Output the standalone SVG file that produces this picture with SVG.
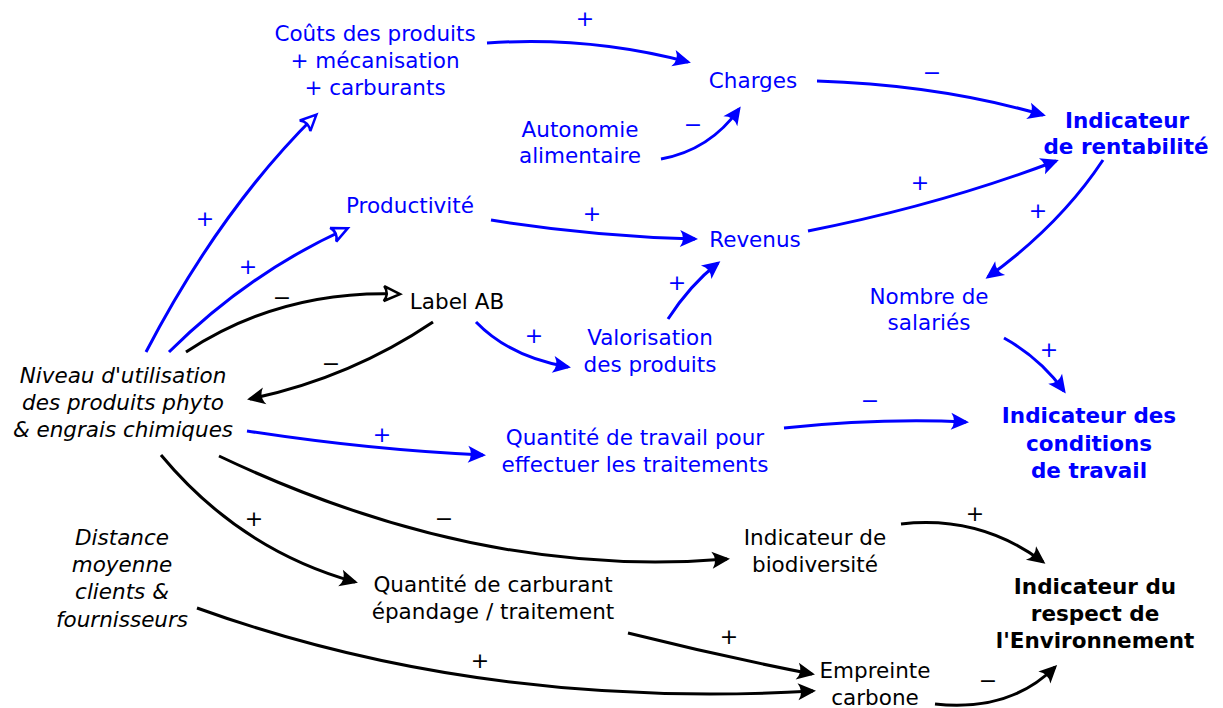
<svg xmlns="http://www.w3.org/2000/svg" width="1223" height="708" viewBox="0 0 1223 708">
<style>
text{font-family:"DejaVu Sans","Liberation Sans",sans-serif;font-size:21.5px;text-anchor:middle}
.b{fill:#0000ff}
.k{fill:#000}
.bold{font-weight:bold}
.it{font-style:italic}
.s{font-size:22px}
path.cb{fill:none;stroke:#0000ff;stroke-width:3;marker-end:url(#ab)}
path.cbh{fill:none;stroke:#0000ff;stroke-width:3;marker-end:url(#abh)}
path.ck{fill:none;stroke:#000;stroke-width:3;marker-end:url(#ak)}
path.ckh{fill:none;stroke:#000;stroke-width:3;marker-end:url(#akh)}
</style>
<defs>
<marker id="ab" viewBox="-18 -10 24 20" refX="0" refY="0" markerWidth="24" markerHeight="20" orient="auto" markerUnits="userSpaceOnUse"><path d="M3,0 L-15,-8.5 Q-9,0 -15,8.5 Z" fill="#0000ff"/></marker>
<marker id="ak" viewBox="-18 -10 24 20" refX="0" refY="0" markerWidth="24" markerHeight="20" orient="auto" markerUnits="userSpaceOnUse"><path d="M3,0 L-15,-8.5 Q-9,0 -15,8.5 Z" fill="#000"/></marker>
<marker id="abh" viewBox="-18 -10 24 20" refX="0" refY="0" markerWidth="24" markerHeight="20" orient="auto" markerUnits="userSpaceOnUse"><path d="M2,0 L-14,-7.5 Q-8.5,0 -14,7.5 Z" fill="#fff" stroke="#0000ff" stroke-width="2.5" stroke-linejoin="miter"/></marker>
<marker id="akh" viewBox="-18 -10 24 20" refX="0" refY="0" markerWidth="24" markerHeight="20" orient="auto" markerUnits="userSpaceOnUse"><path d="M2,0 L-14,-7.5 Q-8.5,0 -14,7.5 Z" fill="#fff" stroke="#000" stroke-width="2.5" stroke-linejoin="miter"/></marker>
</defs>
<g id="connectors">
<path class="cb" d="M487,43 Q590,36 688,62"/>
<path class="cb" d="M661,159 Q710,150 739,109"/>
<path class="cb" d="M817,81 Q940,85 1043,115"/>
<path class="cb" d="M808,231 Q940,205 1056,161"/>
<path class="cb" d="M1103,160 Q1060,225 988,277"/>
<path class="cb" d="M1004,338 Q1040,358 1064,391"/>
<path class="cb" d="M491,220 Q590,236 695,239"/>
<path class="cb" d="M668,319 Q690,285 718,263"/>
<path class="cb" d="M476,322 Q510,357 568,367"/>
<path class="cbh" d="M146,352 Q220,210 315,116"/>
<path class="cbh" d="M169,352 Q250,272 346,229"/>
<path class="ckh" d="M186,352 Q280,290 398,294"/>
<path class="ck" d="M433,322 Q350,378 250,399"/>
<path class="cb" d="M247,431 Q370,450 483,455"/>
<path class="cb" d="M784,428 Q880,418 966,422"/>
<path class="ck" d="M161,455 Q240,550 355,582"/>
<path class="ck" d="M219,456 Q480,580 727,559"/>
<path class="ck" d="M197,608 Q480,710 813,691"/>
<path class="ck" d="M628,633 Q720,656 812,674"/>
<path class="ck" d="M901,524 Q980,515 1043,562"/>
<path class="ck" d="M935,704 Q1010,712 1055,667"/>
<g class="signs">
<text class="b s" x="585" y="26">+</text>
<text class="b s" x="693" y="132">−</text>
<text class="b s" x="932" y="80">−</text>
<text class="b s" x="920" y="190">+</text>
<text class="b s" x="1038" y="218">+</text>
<text class="b s" x="1049" y="357">+</text>
<text class="b s" x="592" y="221">+</text>
<text class="b s" x="677" y="290">+</text>
<text class="b s" x="534" y="343">+</text>
<text class="b s" x="205" y="226">+</text>
<text class="b s" x="248" y="274">+</text>
<text class="k s" x="282" y="305">−</text>
<text class="k s" x="331" y="371">−</text>
<text class="b s" x="382" y="442">+</text>
<text class="b s" x="870" y="408">−</text>
<text class="k s" x="254" y="526">+</text>
<text class="k s" x="444" y="526">−</text>
<text class="k s" x="480" y="668">+</text>
<text class="k s" x="729" y="644">+</text>
<text class="k s" x="975" y="521">+</text>
<text class="k s" x="988" y="688">−</text>
</g>
</g>
<g id="couts"><text class="b" x="375" y="41">Coûts des produits</text><text class="b" x="375" y="68">+ mécanisation</text><text class="b" x="375" y="95">+ carburants</text></g>
<g id="charges"><text class="b" x="753" y="88">Charges</text></g>
<g id="autonomie"><text class="b" x="580" y="137">Autonomie</text><text class="b" x="580" y="163">alimentaire</text></g>
<g id="rentabilite"><text class="b bold" x="1127" y="128">Indicateur</text><text class="b bold" x="1126" y="154">de rentabilité</text></g>
<g id="productivite"><text class="b" x="410" y="213">Productivité</text></g>
<g id="revenus"><text class="b" x="755" y="247">Revenus</text></g>
<g id="labelab"><text class="k" x="457" y="309">Label AB</text></g>
<g id="valorisation"><text class="b" x="650" y="345">Valorisation</text><text class="b" x="650" y="372">des produits</text></g>
<g id="salaries"><text class="b" x="929" y="304">Nombre de</text><text class="b" x="929" y="330">salariés</text></g>
<g id="niveau"><text class="k it" x="123" y="383">Niveau d'utilisation</text><text class="k it" x="123" y="410">des produits phyto</text><text class="k it" x="123" y="437">&amp; engrais chimiques</text></g>
<g id="travail"><text class="b" x="635" y="445">Quantité de travail pour</text><text class="b" x="635" y="472">effectuer les traitements</text></g>
<g id="conditions"><text class="b bold" x="1089" y="423">Indicateur des</text><text class="b bold" x="1089" y="451">conditions</text><text class="b bold" x="1089" y="478">de travail</text></g>
<g id="distance"><text class="k it" x="122" y="545">Distance</text><text class="k it" x="122" y="572">moyenne</text><text class="k it" x="122" y="599">clients &amp;</text><text class="k it" x="122" y="627">fournisseurs</text></g>
<g id="biodiversite"><text class="k" x="815" y="545">Indicateur de</text><text class="k" x="815" y="572">biodiversité</text></g>
<g id="carburant"><text class="k" x="493" y="592">Quantité de carburant</text><text class="k" x="493" y="619">épandage / traitement</text></g>
<g id="environnement"><text class="k bold" x="1095" y="594">Indicateur du</text><text class="k bold" x="1095" y="621">respect de</text><text class="k bold" x="1095" y="648">l'Environnement</text></g>
<g id="empreinte"><text class="k" x="875" y="678">Empreinte</text><text class="k" x="875" y="705">carbone</text></g>
</svg>
